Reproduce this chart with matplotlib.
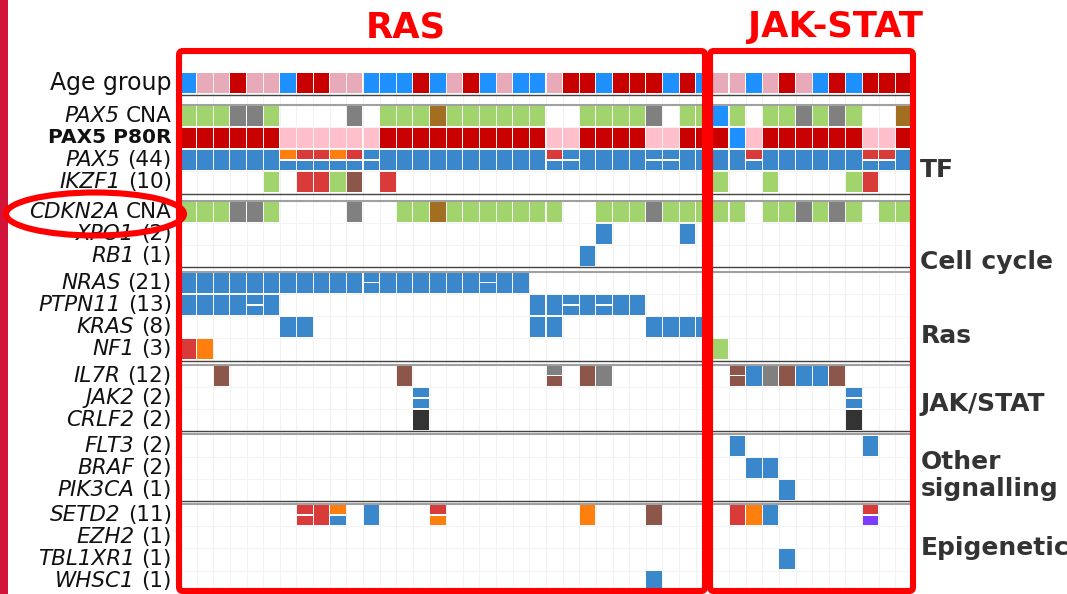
import matplotlib
matplotlib.use('Agg')
import matplotlib.pyplot as plt
from matplotlib.patches import Rectangle, FancyBboxPatch, Ellipse

# sample layout: 32 RAS-subgroup samples followed by 12 JAK-STAT samples
n_samples = 44
n_ras = 32

row_names = ['Age group', 'PAX5 CNA', 'PAX5 P80R', 'PAX5', 'IKZF1',
             'CDKN2A CNA', 'XPO1', 'RB1',
             'NRAS', 'PTPN11', 'KRAS', 'NF1',
             'IL7R', 'JAK2', 'CRLF2',
             'FLT3', 'BRAF', 'PIK3CA',
             'SETD2', 'EZH2', 'TBL1XR1', 'WHSC1']
row_counts = [None, None, None, 44, 10, None, 2, 1, 21, 13, 8, 3,
              12, 2, 2, 2, 2, 1, 11, 1, 1, 1]

group_names = ['', 'TF', 'Cell cycle', 'Ras', 'JAK/STAT',
               'Other\nsignalling', 'Epigenetic']
group_sizes = [1, 4, 3, 4, 3, 3, 4]

# cell codes: '.' empty, one letter = full cell, two letters = top/bottom split
colors = {
    'B': '#1E90FF', 'P': '#E8A9B8', 'R': '#C80000', 'L': '#FFC0CB',
    'g': '#A2D46E', 'k': '#808080', 'w': '#A26E22',
    'b': '#3A87CC', 'o': '#FF7F0E', 'r': '#D93B3B', 'n': '#8C564B',
    'd': '#333333', 'p': '#7B3CFF',
}

age_group = ("B P P R P P B R R P P B B B R B P R B P B B P R R B R R R B R B "
             "P P B P R P B R B R R R")
pax5_cna = ("g g g k k g . . . . k . g g g w g g g g g g . . g g g g k . g g "
            "B g . g g k g k g . . w")
pax5_p80r = ("R R R R R R L L L L L L R R R R R R R R R R L L R R R R L L R R "
             "R B L R R R R R R L L R")
pax5 = ("b b b b b b ob rb rb ob rb bb b b b b b b b b b b rb bb b b b b bb bb b b "
        "b b rb b b b b b b rb rb b")
ikzf1 = {5: 'g', 7: 'r', 8: 'r', 9: 'g', 10: 'n', 12: 'r',
         32: 'g', 35: 'g', 40: 'g', 41: 'r'}
cdkn2a_cna = ("g g g k k g . . . . k . . g g w g g g g g g g . . g g g k g g g "
              "g g . g g k g k g . g g")
xpo1 = {25: 'b', 30: 'b'}
rb1 = {24: 'b'}
nras = {c: 'b' for c in range(21)}
nras.update({11: 'bb', 18: 'bb'})
ptpn11 = {0: 'b', 1: 'b', 2: 'b', 3: 'b', 4: 'bb', 5: 'b',
          21: 'b', 22: 'b', 23: 'bb', 24: 'b', 25: 'bb', 26: 'b', 27: 'b'}
kras = {6: 'b', 7: 'b', 21: 'b', 22: 'b', 28: 'b', 29: 'b', 30: 'b', 31: 'b'}
nf1 = {0: 'r', 1: 'o', 32: 'g'}
il7r = {2: 'n', 13: 'n', 22: 'kn', 24: 'n', 25: 'k',
        33: 'nn', 34: 'b', 35: 'k', 36: 'n', 37: 'b', 38: 'b', 39: 'n'}
jak2 = {14: 'bb', 40: 'bb'}
crlf2 = {14: 'd', 40: 'd'}
flt3 = {33: 'b', 41: 'b'}
braf = {34: 'b', 35: 'b'}
pik3ca = {36: 'b'}
setd2 = {7: 'rr', 8: 'r', 9: 'ob', 11: 'b', 15: 'ro', 24: 'o', 28: 'n',
         33: 'r', 34: 'o', 35: 'b', 41: 'rp'}
ezh2 = {}
tbl1xr1 = {36: 'b'}
whsc1 = {28: 'b'}

rows = [age_group, pax5_cna, pax5_p80r, pax5, ikzf1, cdkn2a_cna, xpo1, rb1,
        nras, ptpn11, kras, nf1, il7r, jak2, crlf2, flt3, braf, pik3ca,
        setd2, ezh2, tbl1xr1, whsc1]


def to_cells(row):
    if isinstance(row, str):
        return {c: t for c, t in enumerate(row.split()) if t != '.'}
    return row


# vertical layout (in row units): small gaps between gene groups
group_gaps = [0, 0.46, 0.32, 0.2, 0.19, 0.15, 0.12]
row_top = []
group_span = []
y = 0
for size, gap in zip(group_sizes, group_gaps):
    y += gap
    group_span.append((y, y + size))
    for i in range(size):
        row_top.append(y)
        y += 1

fig = plt.figure(figsize=(10.67, 5.94), dpi=100)
px_top, pitch = 73.3, 22.2
ax = fig.add_axes([180 / 1067, 0, 732 / 1067, (594 - px_top) / 594])
ax.set_xlim(0, n_samples)
ax.set_ylim((594 - px_top) / pitch, 0)
ax.axis('off')

# faint background grid
for c in range(n_samples + 1):
    ax.plot([c, c], [-0.05, y], color='#f2f2f2', lw=0.8, zorder=0)
for t in row_top:
    ax.plot([0, n_samples], [t + 0.96, t + 0.96], color='#f4f4f4', lw=0.8, zorder=0)

cell_w, cell_h = 0.93, 0.9
for r, row in enumerate(rows):
    top = row_top[r]
    for c, code in to_cells(row).items():
        if len(code) == 1:
            ax.add_patch(Rectangle((c + 0.035, top), cell_w, cell_h,
                                   facecolor=colors[code], edgecolor='none', zorder=2))
        else:
            half = cell_h / 2 - 0.03
            ax.add_patch(Rectangle((c + 0.035, top), cell_w, half,
                                   facecolor=colors[code[0]], edgecolor='none', zorder=2))
            ax.add_patch(Rectangle((c + 0.035, top + cell_h - half), cell_w, half,
                                   facecolor=colors[code[1]], edgecolor='none', zorder=2))

# double separator lines between groups
ax.plot([0, n_samples], [-0.05, -0.05], color='#a0a0a0', lw=1.2, zorder=3)
for g in range(1, len(group_sizes)):
    prev_bottom = group_span[g - 1][1] - 1 + cell_h
    next_top = group_span[g][0]
    ax.plot([0, n_samples], [prev_bottom + 0.06] * 2, color='#444444', lw=1.0, zorder=3)
    ax.plot([0, n_samples], [next_top - 0.05] * 2, color='#a0a0a0', lw=1.5, zorder=3)

# row labels: italic gene name followed by an upright suffix
label_size = 15.5
for r, (name, count) in enumerate(zip(row_names, row_counts)):
    yc = row_top[r] + cell_h / 2
    if name == 'Age group':
        ax.text(-0.5, yc, name, ha='right', va='center', fontsize=17,
                color='#111111', clip_on=False)
        continue
    if name == 'PAX5 P80R':
        ax.text(-0.5, yc, name, ha='right', va='center', fontsize=14.5,
                fontweight='bold', color='#111111', clip_on=False)
        continue
    if name.endswith(' CNA'):
        gene, suffix = name.split()[0], 'CNA'
    else:
        gene, suffix = name, '(%d)' % count
    tail = ax.text(-0.5, yc, suffix, ha='right', va='center', fontsize=label_size,
                   color='#111111', clip_on=False)
    ax.annotate(gene, xy=(0, 0), xycoords=tail, xytext=(-0.318 * label_size, 0),
                textcoords='offset points', ha='right', va='bottom',
                fontsize=label_size, style='italic', color='#111111',
                annotation_clip=False)

# group labels on the right
group_label_y = [None, 4.36, 8.5, 11.83, 14.9, 18.1, 21.4]
for name, gy in zip(group_names, group_label_y):
    if gy is None:
        continue
    ax.text(44.5, gy, name, ha='left', va='center', fontsize=18,
            fontweight='bold', color='#333333', linespacing=1.15, clip_on=False)

# overlay: subgroup boxes, titles and highlight
ov = fig.add_axes([0, 0, 1, 1], zorder=5)
ov.set_xlim(0, 1067)
ov.set_ylim(594, 0)
ov.axis('off')
ov.patch.set_alpha(0)

ov.add_patch(Rectangle((0, 0), 8, 594, facecolor='#D2143A', edgecolor='none'))
box_kw = dict(boxstyle='round,pad=0,rounding_size=4', fill=False,
              edgecolor='#FF0000', lw=4.4)
ov.add_patch(FancyBboxPatch((179, 51), 705 - 179, 591 - 51, **box_kw))
ov.add_patch(FancyBboxPatch((710, 51), 913 - 710, 591 - 51, **box_kw))
title_kw = dict(ha='center', va='center', color='#FF0000', fontsize=25.5,
                fontweight='bold')
ov.text(406, 27, 'RAS', **title_kw)
ov.text(835, 27, 'JAK-STAT', **title_kw)
ov.add_patch(Ellipse((95, 214), 178, 43, fill=False, edgecolor='#FF0000', lw=4.4))

plt.savefig('out.png', dpi=100)
